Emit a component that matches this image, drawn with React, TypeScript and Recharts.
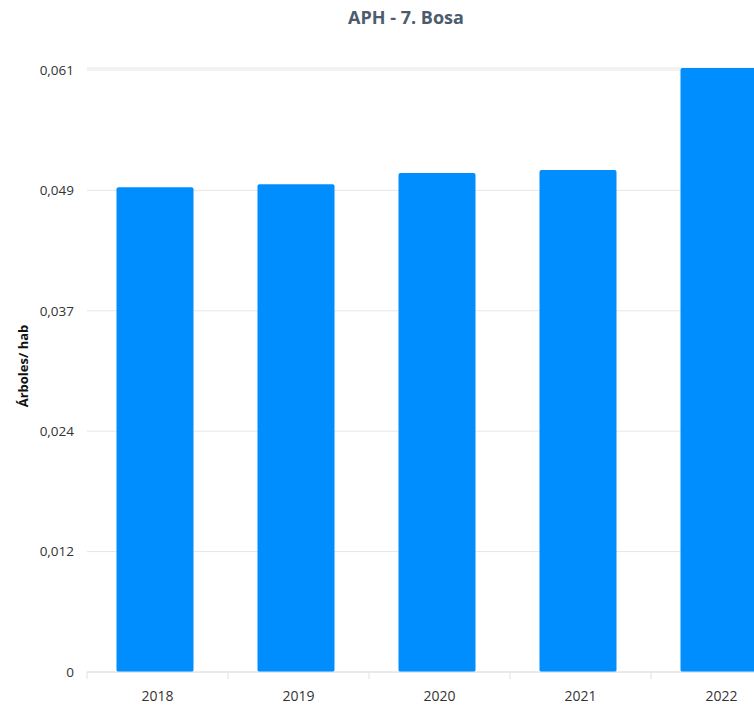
import React from 'react';
import { BarChart, Bar, XAxis, YAxis, CartesianGrid, Rectangle } from 'recharts';

const years = ['2018', '2019', '2020', '2021', '2022'];
const arbolesPorHab = [0.04911, 0.04941, 0.05056, 0.05086, 0.0612];
const yTicks = [0, 0.0122, 0.0244, 0.0366, 0.0488, 0.061];

const data = years.map((anio, i) => ({ anio, valor: arbolesPorHab[i] }));

const CHART_W = 812;
const CHART_H = 706;
const Y_AXIS_W = 87;
const MARGIN_RIGHT = 20;
const PLOT_W = CHART_W - Y_AXIS_W - MARGIN_RIGHT;
const HALF_BAND = PLOT_W / years.length / 2;

const FONT = '"Open Sans", "Noto Sans", sans-serif';

const formatoEje = (v: number) => (v === 0 ? '0' : v.toFixed(3).replace('.', ','));

// tick de categoria: la marca va en el borde entre categorias, como en el original
const TickAnio = (props: any) => {
  const { x, y, payload } = props;
  return (
    <g>
      <line x1={x - HALF_BAND} x2={x - HALF_BAND} y1={y} y2={y + 7} stroke="#e0e0e0" />
      <text x={x} y={y + 19} dy="0.71em" textAnchor="middle" fill="#333333" fontSize={14} fontFamily={FONT}>
        {payload.value}
      </text>
    </g>
  );
};

const EtiquetaY = (props: any) => {
  const { viewBox } = props;
  const cy = viewBox.y + viewBox.height / 2 - 4;
  return (
    <text
      x={23}
      y={cy}
      transform={`rotate(-90 23 ${cy})`}
      textAnchor="middle"
      dominantBaseline="central"
      fill="#111111"
      fontSize={13}
      fontWeight="bold"
      fontFamily={FONT}
    >
      Árboles/ hab
    </text>
  );
};

// las barras del original quedan ~2.5px a la izquierda del centro de la categoria
const BarraDesplazada = (props: any) => <Rectangle {...props} x={props.x - 2.5} />;

export default function App() {
  return (
    <div style={{ position: 'fixed', left: 0, top: 0, width: 754, height: 706, overflow: 'hidden', background: '#fff' }}>
      <div
        style={{
          position: 'absolute',
          left: 0,
          top: 5,
          width: CHART_W,
          textAlign: 'center',
          fontFamily: FONT,
          fontWeight: 'bold',
          fontSize: 18,
          color: '#4d5b6e',
        }}
      >
        APH - 7. Bosa
      </div>
      <BarChart
        width={CHART_W}
        height={CHART_H}
        data={data}
        margin={{ top: 68, right: MARGIN_RIGHT, left: 0, bottom: 4 }}
        barSize={77}
      >
        <CartesianGrid vertical={false} stroke="#e6e6e6" />
        <XAxis
          dataKey="anio"
          height={30}
          axisLine={{ stroke: '#e0e0e0' }}
          tickLine={false}
          tickSize={0}
          tickMargin={0}
          tick={<TickAnio />}
          interval={0}
        />
        <YAxis
          width={Y_AXIS_W}
          domain={[0, 0.0612]}
          ticks={yTicks}
          tickFormatter={formatoEje}
          axisLine={false}
          tickLine={false}
          tickSize={0}
          tickMargin={13}
          tick={{ fill: '#333333', fontSize: 13.5, fontFamily: FONT }}
          label={<EtiquetaY />}
        />
        <Bar dataKey="valor" fill="#008eff" radius={2} shape={BarraDesplazada} isAnimationActive={false} />
      </BarChart>
    </div>
  );
}
